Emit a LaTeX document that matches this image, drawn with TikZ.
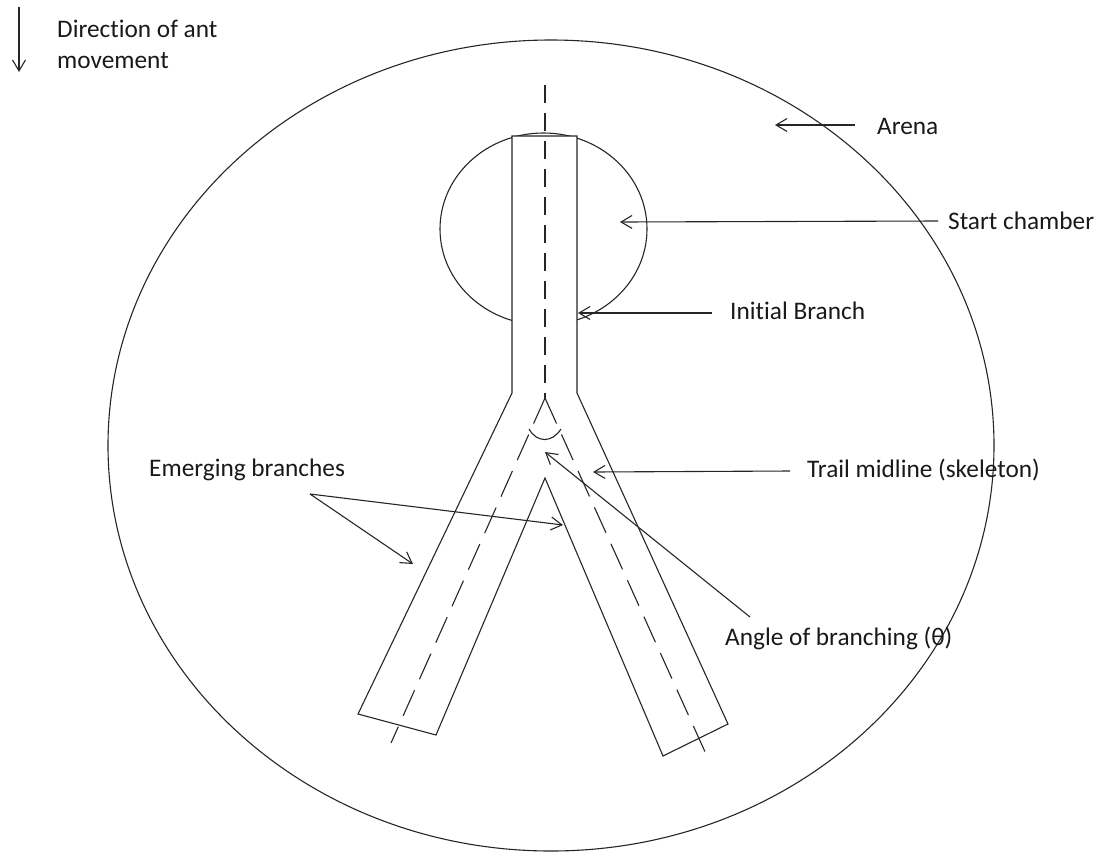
\documentclass[tikz,border=0pt]{standalone}
\usepackage{fontspec}
\setmainfont{Carlito}[Ligatures=NoCommon]
\usetikzlibrary{arrows.meta}
\begin{document}
\begin{tikzpicture}[x=1pt,y=-1pt,
  shape line/.style={line width=1.1pt,draw=black!85},
  midline/.style={line width=1.1pt,draw=black!85,dash pattern=on 18pt off 10pt},
  bmidline/.style={line width=1.1pt,draw=black!85,dash pattern=on 28pt off 12pt},
  pointer/.style={line width=1.1pt,draw=black!85,-{Straight Barb[length=11pt,width=13pt,line width=1.1pt]}},
  lbl/.style={anchor=west,inner sep=0pt,font=\fontsize{25.3}{30.5}\selectfont,text=black!90}]
\useasboundingbox (0,0) rectangle (1102,852);
% arena
\draw[shape line] (551,445.5) ellipse [x radius=443, y radius=405.5];
% start chamber
\draw[shape line] (543.5,229) ellipse [x radius=103.5, y radius=96];
% trail outline
\draw[shape line,fill=white] (512,393) -- (512,136) -- (577,136) -- (577,393)
  -- (728,724) -- (663,756) -- (545,478) -- (436,735) -- (358,714) -- cycle;
% midlines
\coordinate (apex) at (545,398);
\draw[midline] (545,85) -- (apex);
\draw[bmidline] (apex) -- (391,743);
\draw[bmidline] (apex) -- (706,754);
% angle mark
\draw[shape line] (529,429) .. controls (537,443) and (552,443) .. (561,429);
% direction of movement
\node[lbl,anchor=north west,align=left] (dir) at (57,20) {Direction of ant\\movement};
\coordinate (dtop) at (19,7);
\coordinate (dbot) at (19,72);
\draw[pointer] (dtop) -- (dbot);
% labels
\node[lbl] (arena) at (877,126) {Arena};
\coordinate (arenat) at (775,125);
\draw[pointer] (arena.west) ++(-22,-1) coordinate (arenas) (arenas) -- (arenat);
\node[lbl] (start) at (948,221) {Start chamber};
\coordinate (startt) at (620,222);
\draw[pointer] ([xshift=-10pt]start.west) -- (startt);
\node[lbl] (init) at (730,311) {Initial Branch};
\coordinate (initt) at (578,313);
\draw[pointer] ([xshift=-18pt,yshift=-2pt]init.west) -- (initt);
\node[lbl] (emerg) at (149,470) {Emerging branches};
\coordinate (emergs) at (310,494);
\coordinate (emerga) at (413,564);
\coordinate (emergb) at (563,525);
\draw[pointer] (emergs) -- (emerga);
\draw[pointer] (emergs) -- (emergb);
\node[lbl] (trail) at (807,470) {Trail midline (skeleton)};
\coordinate (trailt) at (593,472);
\draw[pointer] ([xshift=-17pt,yshift=-1pt]trail.west) -- (trailt);
\node[lbl] (angle) at (725,638) {Angle of branching (θ)};
\coordinate (angles) at (750,617);
\coordinate (anglet) at (545,452);
\draw[pointer] (angles) -- (anglet);
\end{tikzpicture}
\end{document}
